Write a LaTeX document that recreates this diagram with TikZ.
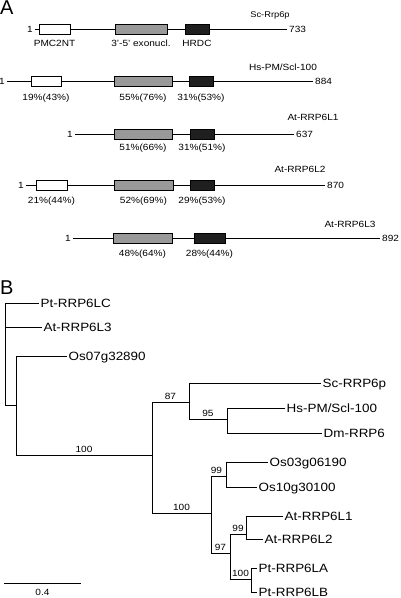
\documentclass[tikz,border=0pt]{standalone}
\usepackage{fontspec}
\setmainfont{Liberation Sans}[FakeStretch=1.12]
\newfontfamily\panelfont{Liberation Sans}
\definecolor{domgray}{gray}{0.6}
\definecolor{domblack}{gray}{0.12}
\begin{document}
\begin{tikzpicture}[x=1pt,y=-1pt,
  bb/.style={line width=1pt},
  lbl/.style={inner sep=0pt, font=\fontsize{9}{9}\selectfont, text height=6.5pt, text depth=0pt},
  num/.style={lbl, inner sep=2pt},
  tip/.style={anchor=west, inner xsep=1.5pt, inner ysep=0.3pt, font=\fontsize{12}{12}\selectfont, text height=8.6pt, text depth=0pt},
  boot/.style={above, inner sep=2.5pt, font=\fontsize{9}{9}\selectfont, text height=6.5pt, text depth=0pt},
  dom/.style={draw, line width=1pt, minimum height=10pt, inner sep=0pt},
  wdom/.style={dom, fill=white},
  gdom/.style={dom, fill=domgray},
  kdom/.style={dom, fill=domblack},
  panel/.style={anchor=west, inner sep=0pt, font=\panelfont\fontsize{20}{20}\selectfont, text height=14.3pt, text depth=0pt}
]
\useasboundingbox (0,0) rectangle (400,598);

% ---------------- Panel A ----------------
\node[panel] (pA) at (0,7.5) {A};

% Row 1: Sc-Rrp6p
\node[num, anchor=east] (s1) at (35,29) {1};
\node[num, anchor=west] (e1) at (287,29) {733};
\draw[bb] (s1.east) -- (e1.west);
\node[wdom, minimum width=31pt] (w1) at (54.5,29) {};
\node[gdom, minimum width=52pt] (g1) at (141,29) {};
\node[kdom, minimum width=24pt] (k1) at (197,29) {};
\node[lbl] (t1) at (270,14) {\fontsize{8.3}{8.3}\selectfont Sc-Rrp6p};
\node[lbl, below=5.5pt] (d1a) at (w1.south) {PMC2NT};
\node[lbl, below=5.5pt] (d1b) at (g1.south) {3'-5' exonucl.};
\node[lbl, below=5.5pt] (d1c) at (k1.south) {HRDC};

% Row 2: Hs-PM/Scl-100
\node[num, anchor=east] (s2) at (7,81) {1};
\node[num, anchor=west] (e2) at (313,81) {884};
\draw[bb] (s2.east) -- (e2.west);
\node[wdom, minimum width=30pt] (w2) at (46,81) {};
\node[gdom, minimum width=58pt] (g2) at (143,81) {};
\node[kdom, minimum width=24pt] (k2) at (201,81) {};
\node[lbl] (t2) at (283,67) {Hs-PM/Scl-100};
\node[lbl, below=7.5pt] (p2a) at (w2.south) {19\%(43\%)};
\node[lbl, below=7.5pt] (p2b) at (g2.south) {55\%(76\%)};
\node[lbl, below=7.5pt] (p2c) at (k2.south) {31\%(53\%)};

% Row 3: At-RRP6L1
\node[num, anchor=east] (s3) at (75,134) {1};
\node[num, anchor=west] (e3) at (294,134) {637};
\draw[bb] (s3.east) -- (e3.west);
\node[gdom, minimum width=58pt] (g3) at (143,134) {};
\node[kdom, minimum width=24pt] (k3) at (202,134) {};
\node[lbl] (t3) at (313,117) {At-RRP6L1};
\node[lbl, below=4.5pt] (p3b) at (g3.south) {51\%(66\%)};
\node[lbl, below=4.5pt] (p3c) at (k3.south) {31\%(51\%)};

% Row 4: At-RRP6L2
\node[num, anchor=east] (s4) at (26,185) {1};
\node[num, anchor=west] (e4) at (325,185) {870};
\draw[bb] (s4.east) -- (e4.west);
\node[wdom, minimum width=31pt] (w4) at (51.5,185) {};
\node[gdom, minimum width=59pt] (g4) at (143.5,185) {};
\node[kdom, minimum width=24pt] (k4) at (202,185) {};
\node[lbl] (t4) at (300,169) {At-RRP6L2};
\node[lbl, below=6.5pt] (p4a) at (w4.south) {21\%(44\%)};
\node[lbl, below=6.5pt] (p4b) at (g4.south) {52\%(69\%)};
\node[lbl, below=6.5pt] (p4c) at (k4.south) {29\%(53\%)};

% Row 5: At-RRP6L3
\node[num, anchor=east] (s5) at (73,238) {1};
\node[num, anchor=west] (e5) at (380,238) {892};
\draw[bb] (s5.east) -- (e5.west);
\node[gdom, minimum width=59pt] (g5) at (142.5,238) {};
\node[kdom, minimum width=31pt] (k5) at (209.5,238) {};
\node[lbl] (t5) at (350,224) {At-RRP6L3};
\node[lbl, below=6.5pt] (p5b) at (g5.south) {48\%(64\%)};
\node[lbl, below=6.5pt] (p5c) at (k5.south) {28\%(44\%)};

% ---------------- Panel B ----------------
\node[panel] (pB) at (0,287) {B};

\node[tip] (ptlc) at (39,303) {Pt-RRP6LC};
\node[tip] (atl3) at (42,327) {At-RRP6L3};
\node[tip] (os07) at (67,356) {Os07g32890};
\node[tip] (sc)   at (321,383) {Sc-RRP6p};
\node[tip] (hs)   at (285,408) {Hs-PM/Scl-100};
\node[tip] (dm)   at (322,433) {Dm-RRP6};
\node[tip] (os03) at (268,462) {Os03g06190};
\node[tip] (os10) at (257,487) {Os10g30100};
\node[tip] (atl1) at (283,516) {At-RRP6L1};
\node[tip] (atl2) at (263,539) {At-RRP6L2};
\node[tip] (ptla) at (257,568) {Pt-RRP6LA};
\node[tip] (ptlb) at (257,592.5) {Pt-RRP6LB};

\coordinate (r)     at (5,405);
\coordinate (nX)    at (16,405);
\coordinate (nY)    at (152,455);
\coordinate (n87)   at (189,402);
\coordinate (n95)   at (227,419);
\coordinate (nB)    at (211,513);
\coordinate (n99a)  at (226,476);
\coordinate (n97)   at (230,553);
\coordinate (n99b)  at (246,534);
\coordinate (n100b) at (251,579);

\draw[bb] (r) |- (ptlc.west);
\draw[bb] (r |- atl3.west) -- (atl3.west);
\draw[bb] (r) -- (nX);
\draw[bb] (nX) |- (os07.west);
\draw[bb] (nX) |- node[boot, pos=0.75] {100} (nY);
\draw[bb] (nY) |- node[boot, pos=0.75] {87} (n87);
\draw[bb] (nY) |- node[boot, pos=0.75] {100} (nB);
\draw[bb] (n87) |- (sc.west);
\draw[bb] (n87) |- node[boot, pos=0.75] {95} (n95);
\draw[bb] (n95) |- (hs.west);
\draw[bb] (n95) |- (dm.west);
\draw[bb] (nB) |- node[boot, pos=0.75, xshift=-2pt] {99} (n99a);
\draw[bb] (nB) |- node[boot, pos=0.75] {97} (n97);
\draw[bb] (n99a) |- (os03.west);
\draw[bb] (n99a) |- (os10.west);
\draw[bb] (n97) |- node[boot, pos=0.75] {99} (n99b);
\draw[bb] (n97) |- node[boot, pos=0.75] {100} (n100b);
\draw[bb] (n99b) |- (atl1.west);
\draw[bb] (n99b) |- (atl2.west);
\draw[bb] (n100b) |- (ptla.west);
\draw[bb] (n100b) |- (ptlb.west);

% scale bar
\coordinate (sb1) at (4,583);
\coordinate (sb2) at (81,583);
\draw[bb] (sb1) -- node[below, inner sep=5.5pt, font=\fontsize{9}{9}\selectfont, text height=6.5pt, text depth=0pt] {0.4} (sb2);
\end{tikzpicture}
\end{document}
